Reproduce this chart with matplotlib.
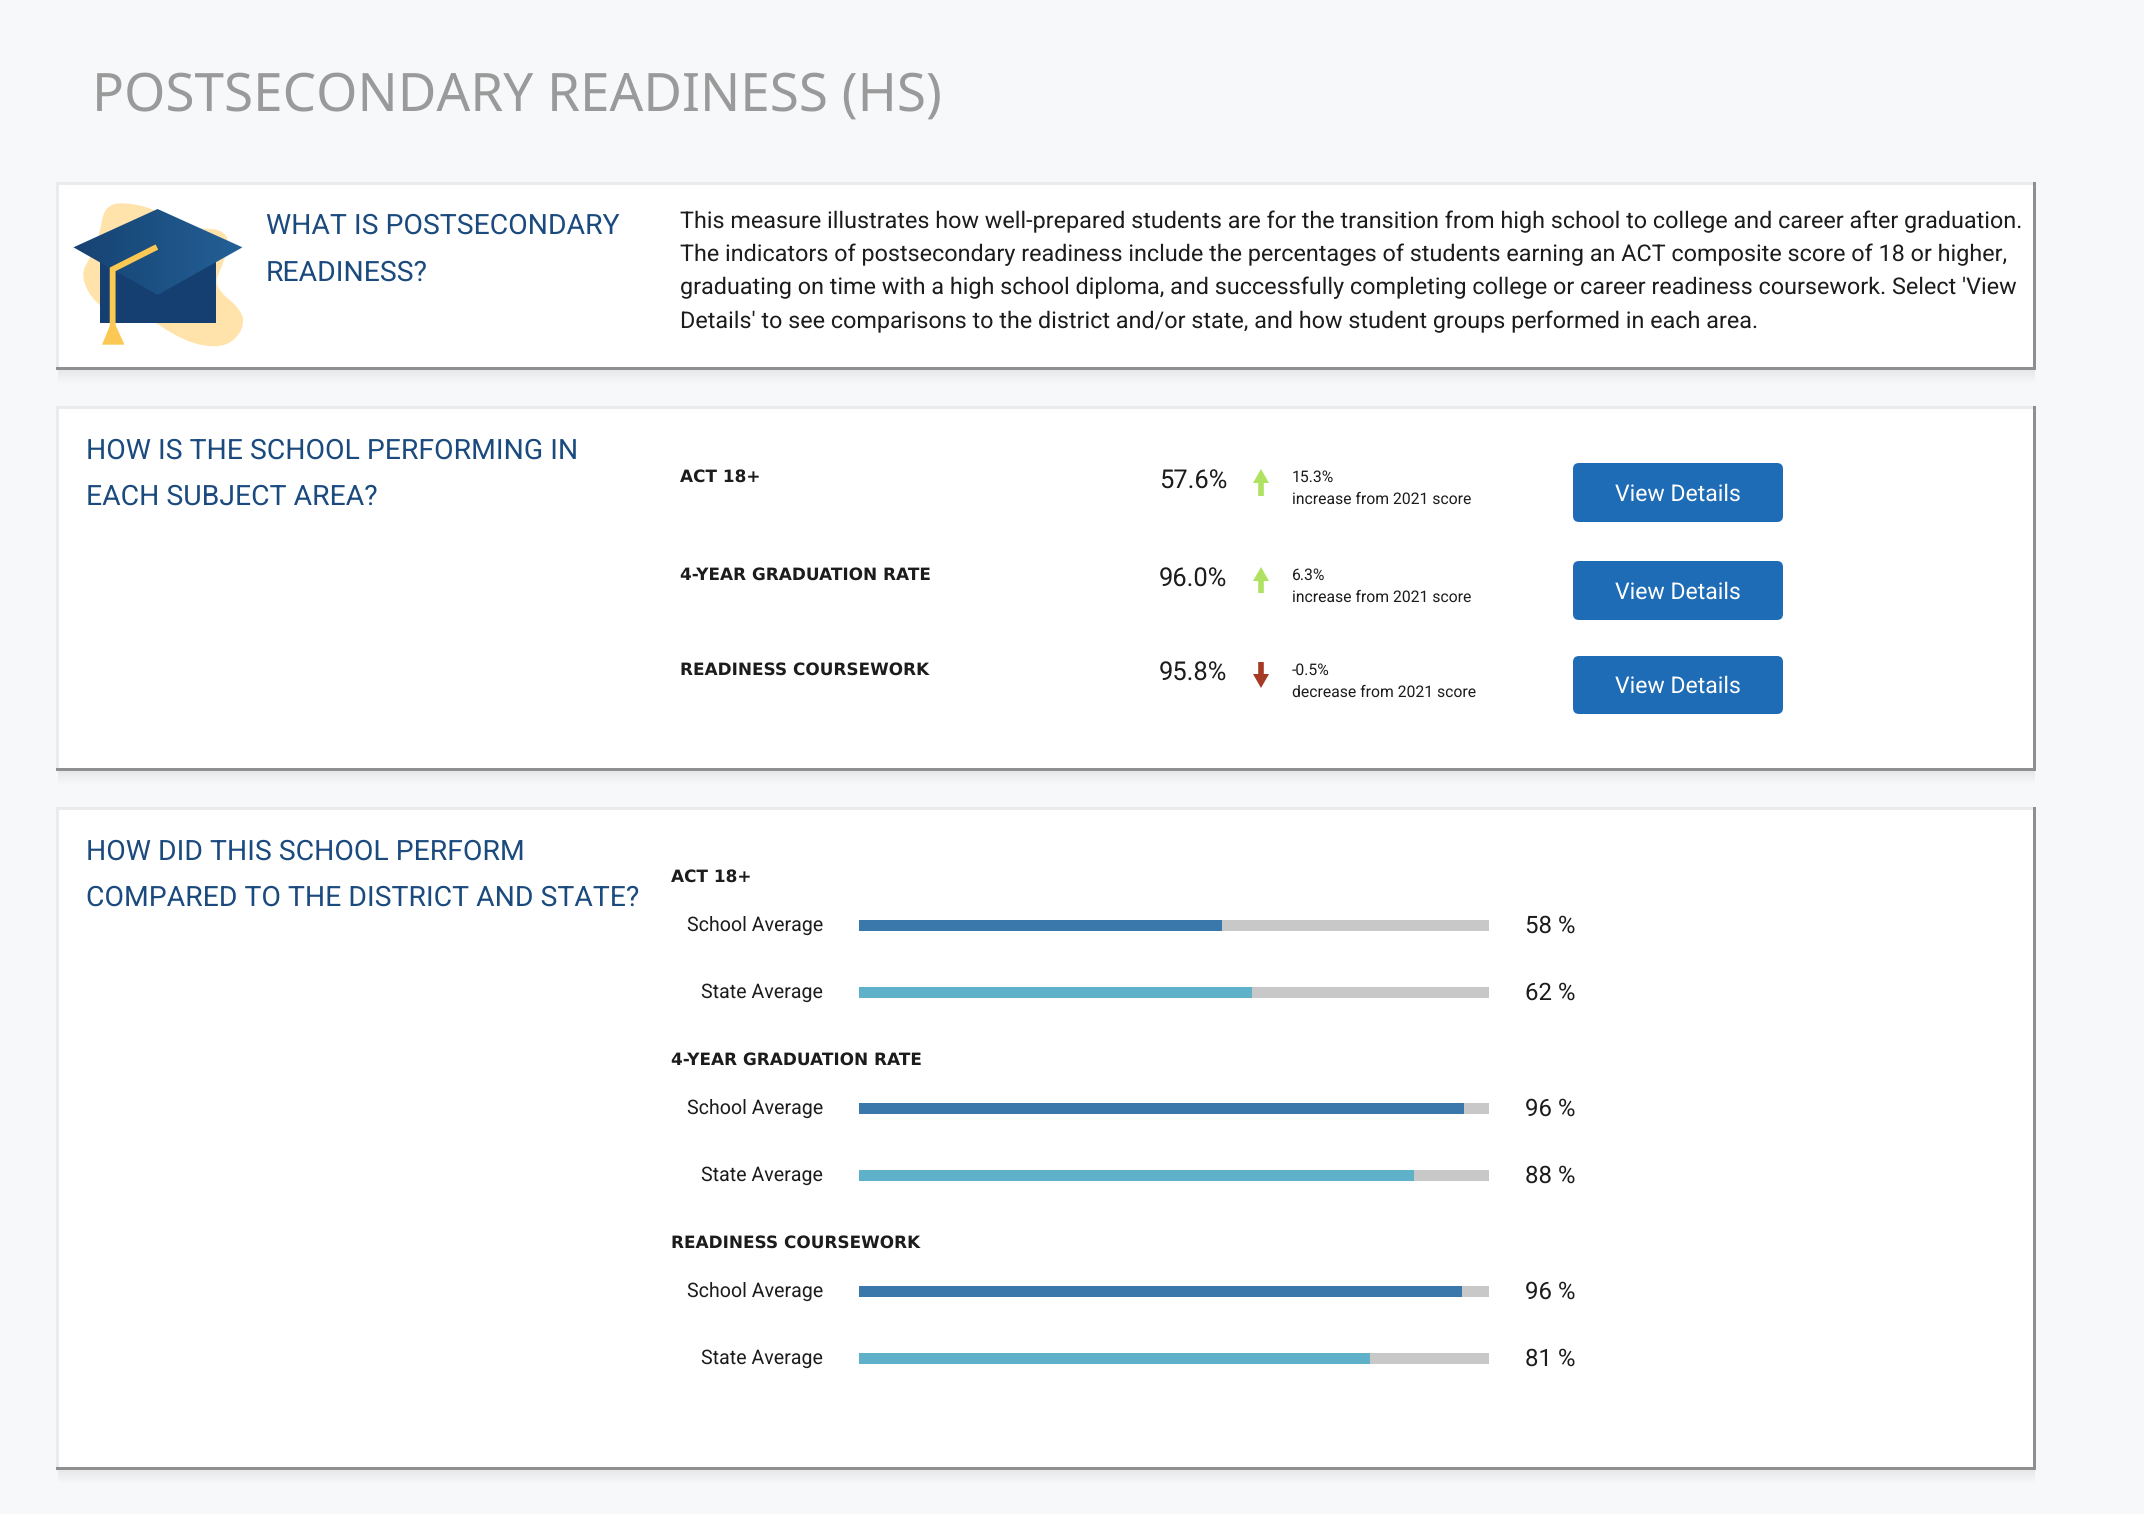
import numpy as np
import matplotlib
matplotlib.use("Agg")
import matplotlib.pyplot as plt
from matplotlib.patches import Rectangle, FancyBboxPatch, Polygon, PathPatch
from matplotlib.path import Path

plt.rcParams["text.hinting"] = "none"

# Data
subjects = ["ACT 18+", "4-YEAR GRADUATION RATE", "READINESS COURSEWORK"]
scores = ["57.6%", "96.0%", "95.8%"]
changes = ["15.3%", "6.3%", "-0.5%"]
change_notes = ["increase from 2021 score", "increase from 2021 score", "decrease from 2021 score"]
school_avg = [57.6, 96.1, 95.7]
state_avg = [62.4, 88.1, 81.1]
school_labels = ["58 %", "96 %", "96 %"]
state_labels = ["62 %", "88 %", "81 %"]
body_lines = [
    "This measure illustrates how well-prepared students are for the transition from high school to college and career after graduation.",
    "The indicators of postsecondary readiness include the percentages of students earning an ACT composite score of 18 or higher,",
    "graduating on time with a high school diploma, and successfully completing college or career readiness coursework. Select 'View",
    "Details' to see comparisons to the district and/or state, and how student groups performed in each area.",
]

W, H = 2144, 1514
BG = "#f7f8fa"
NAVY = "#1a4a7e"
TEXT = "#1c1c1c"
BODY_FONT = ["Roboto", "DejaVu Sans"]
BOLD_FONT = ["DejaVu Sans"]
TITLE_FONT = ["Noto Sans", "DejaVu Sans"]
HEAD_PX = 28.4


def pt(px):
    # font size given in pixels of the final image
    return px * 72 / 100


fig = plt.figure(figsize=(W / 100, H / 100), dpi=100, facecolor=BG)
ax = fig.add_axes([0, 0, 1, 1])
ax.set_xlim(0, W)
ax.set_ylim(H, 0)
ax.axis("off")


def txt(x, y, s, px, color=TEXT, ha="left", weight="normal", family=BODY_FONT):
    ax.text(x, y + 1.5, s, fontsize=pt(px), color=color, ha=ha, va="center",
            fontweight=weight, family=family, zorder=8)


def card(x0, y0, x1, y1):
    # soft shadow below, then light top/left edge, dark bottom/right edge, white face
    for i in range(8, 0, -1):
        ax.add_patch(Rectangle((x0 - 1, y1), x1 - x0 + 3, 3 + i * 1.6,
                               fc="black", ec="none", alpha=0.007, zorder=1))
    ax.add_patch(Rectangle((x0 - 3, y0 - 3), x1 - x0 + 6, y1 - y0 + 6, fc="#8f8f8f", ec="none", zorder=2))
    ax.add_patch(Rectangle((x0 - 3, y0 - 3), x1 - x0 + 3, y1 - y0 + 3, fc="#ebebeb", ec="none", zorder=2))
    ax.add_patch(Rectangle((x0, y0), x1 - x0, y1 - y0, fc="white", ec="none", zorder=3))


def arrow(x, y0, y1, color):
    # y0 is the tail end, y1 the tip
    sign = 1 if y1 > y0 else -1
    ax.add_patch(Polygon([(x - 2.8, y0), (x + 2.8, y0), (x + 2.8, y1 - sign * 14), (x + 8, y1 - sign * 14),
                          (x, y1), (x - 8, y1 - sign * 14), (x - 2.8, y1 - sign * 14)],
                         fc=color, ec="none", zorder=5))


def grad_cap():
    zx = lambda v: 40 + v / 2.45
    zy = lambda v: 170 + v / 3
    # yellow blob behind the cap
    pts = [(145, 195), (160, 100), (235, 100), (300, 130), (380, 178), (440, 175), (468, 215), (445, 290),
           (425, 350), (495, 420), (500, 475), (460, 530), (390, 528), (320, 490), (270, 445), (150, 425),
           (95, 320), (132, 245)]
    pts = [(zx(a), zy(b)) for a, b in pts]
    verts, codes = [], []
    n = len(pts)
    for i in range(n):
        p, q = np.array(pts[i]), np.array(pts[(i + 1) % n])
        mid = (p + q) / 2
        if i == 0:
            first = (np.array(pts[-1]) + p) / 2
            verts.append(first)
            codes.append(Path.MOVETO)
        verts += [p, mid]
        codes += [Path.CURVE3, Path.CURVE3]
    ax.add_patch(PathPatch(Path(verts, codes), fc="#ffe3ab", ec="none", zorder=4))
    # cap base
    ax.add_patch(Polygon([(zx(148), zy(270)), (zx(430), zy(270)), (zx(430), zy(458)), (zx(148), zy(458))],
                         fc="#153f70", ec="none", zorder=5))
    # board with a left-to-right gradient
    board = Polygon([(zx(82), zy(232)), (zx(288), zy(117)), (zx(496), zy(232)), (zx(288), zy(375))],
                    fc="none", ec="none", zorder=6)
    ax.add_patch(board)
    grad = np.linspace(0, 1, 64).reshape(1, -1, 1)
    c0, c1 = np.array([0x16, 0x42, 0x72]) / 255, np.array([0x23, 0x60, 0x96]) / 255
    img = ax.imshow(c0 + (c1 - c0) * grad, extent=(zx(82), zx(496), zy(375), zy(117)),
                    aspect="auto", zorder=6)
    img.set_clip_path(board)
    ax.set_xlim(0, W)
    ax.set_ylim(H, 0)
    # cord and tassel
    ax.plot([zx(280), zx(178), zx(178)], [zy(235), zy(298), zy(470)], color="#fbc853", lw=4.2,
            solid_joinstyle="miter", zorder=7)
    ax.add_patch(Polygon([(zx(172), zy(465)), (zx(185), zy(465)), (zx(207), zy(524)), (zx(152), zy(524))],
                         fc="#fbc853", ec="none", zorder=7))


# Page title
txt(92, 95, "POSTSECONDARY READINESS (HS)", 53, color="#9a9a9a", family=TITLE_FONT)

# Cards
card(59, 185, 2033, 367)
card(59, 409, 2033, 768)
card(59, 810, 2033, 1467)

# Card 1
grad_cap()
txt(266, 225, "WHAT IS POSTSECONDARY", HEAD_PX, color=NAVY)
txt(266, 272, "READINESS?", HEAD_PX, color=NAVY)
for line, y in zip(body_lines, [220, 253, 286.5, 320]):
    txt(680, y, line, 23.4)

# Card 2
txt(86, 450, "HOW IS THE SCHOOL PERFORMING IN", HEAD_PX, color=NAVY)
txt(86, 496, "EACH SUBJECT AREA?", HEAD_PX, color=NAVY)
row_y = [476, 574, 669]
score_y = [480, 578, 672]
button_y = [(463, 522), (561, 620), (656, 714)]
arrow_y = [(496, 469), (593, 567), (662, 688)]
arrow_col = ["#aee260", "#aee260", "#a63a25"]
for i, name in enumerate(subjects):
    txt(680, row_y[i], name, 16.9, weight="bold", family=BOLD_FONT)
    txt(1227, score_y[i], scores[i], 25.5, ha="right")
    arrow(1261, arrow_y[i][0], arrow_y[i][1], arrow_col[i])
    txt(1292, row_y[i], changes[i], 15.8)
    txt(1292, row_y[i] + 22, change_notes[i], 15.8)
    b0, b1 = button_y[i]
    ax.add_patch(FancyBboxPatch((1573, b0), 210, b1 - b0, boxstyle="round,pad=0,rounding_size=6",
                                fc="#1f6cb6", ec="none", zorder=5))
    txt(1678, (b0 + b1) / 2, "View Details", 23, color="white", ha="center")

# Card 3
txt(86, 851, "HOW DID THIS SCHOOL PERFORM", HEAD_PX, color=NAVY)
txt(86, 897, "COMPARED TO THE DISTRICT AND STATE?", HEAD_PX, color=NAVY)

# Bars live in their own axes, 0-100 across the track; y is in image pixels
top, bottom = 900, 1380
ax_bar = fig.add_axes([859 / W, 1 - bottom / H, 630 / W, (bottom - top) / H])
ax_bar.set_xlim(0, 100)
ax_bar.set_ylim(bottom, top)
ax_bar.axis("off")
ax_bar.patch.set_alpha(0)
group_y = [876, 1059, 1242]
school_y = [925.5, 1108.5, 1291.5]
state_y = [992.5, 1175.5, 1358.5]
ax_bar.barh(school_y + state_y, [100] * 6, height=11, color="#c8c8c8")
ax_bar.barh(school_y, school_avg, height=11, color="#3a77aa")
ax_bar.barh(state_y, state_avg, height=11, color="#5fb1ca")
for i, name in enumerate(subjects):
    txt(671, group_y[i], name, 16.9, weight="bold", family=BOLD_FONT)
    txt(823, school_y[i] - 2, "School Average", 19.6, ha="right")
    txt(823, state_y[i] - 2, "State Average", 19.6, ha="right")
    txt(1525, school_y[i] - 1, school_labels[i], 24)
    txt(1525, state_y[i] - 1, state_labels[i], 24)

fig.savefig("out.png", dpi=100, facecolor=BG)
